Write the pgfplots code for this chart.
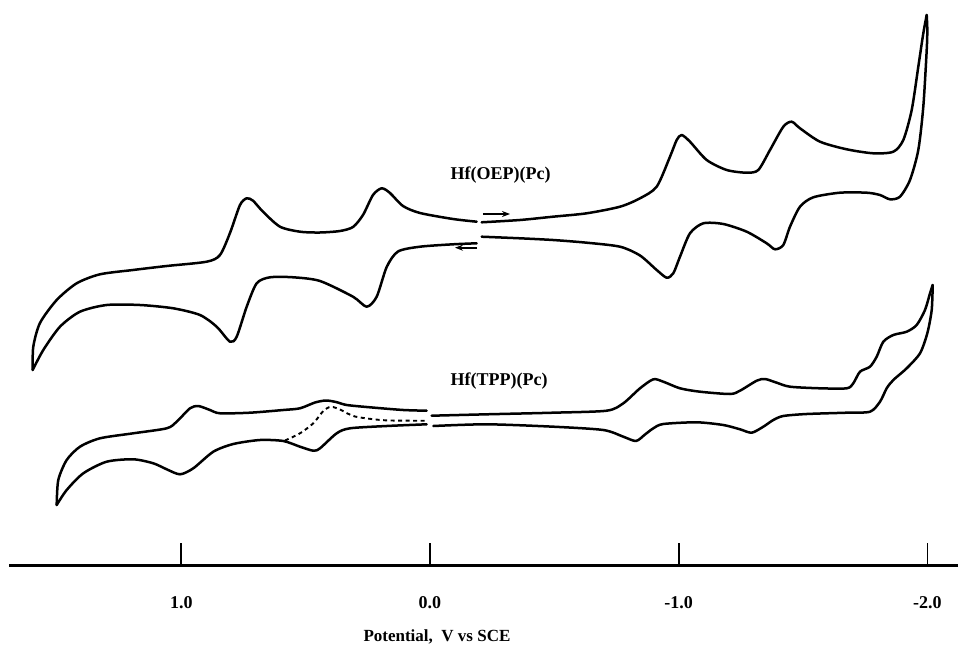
\documentclass[border=0pt]{standalone}
\usepackage{pgfplots}
\pgfplotsset{compat=1.18}
\usepackage{fontspec}
\setmainfont{Liberation Serif}
\usetikzlibrary{arrows.meta}
\pgfplotsset{cv/.style={black, line width=2.5pt, line join=round, line cap=round, smooth, tension=0.45, mark=none}}
\begin{document}
\begin{tikzpicture}
\useasboundingbox (0,0) rectangle (961pt,646pt);
\begin{axis}[
  at={(9pt,81pt)}, anchor=south west,
  scale only axis, width=949pt, height=565pt,
  xmin=-2.1230, xmax=1.6928, ymin=0, ymax=565,
  x dir=reverse,
  axis x line=bottom, axis y line=none,
  x axis line style={-, line width=3pt},
  xtick={1,0,-1,-2}, xticklabels={1.0,0.0,-1.0,-2.0},
  tick align=inside, major tick length=22pt,
  xtick style={line width=1.8pt, black},
  xticklabel style={font=\fontsize{18}{18}\selectfont\bfseries, anchor=center, yshift=-38pt},
  clip=false,
]
% ---- Hf(OEP)(Pc): positive side, upper branch (gap -> tip)
\addplot[cv] coordinates {
(-0.1878,343.3) (-0.0925,346) (0.0402,352) (0.1086,359) (0.1608,372) (0.1942,376.7)
(0.2292,370) (0.2694,350) (0.3096,338) (0.3619,334) (0.4423,332.5) (0.5227,333.3)
(0.6031,338.3) (0.6715,353.3) (0.7117,364.3) (0.7370,366.7) (0.7640,360) (0.8042,332)
(0.8444,310) (0.8979,303.3) (1.0587,299) (1.1942,295) (1.3269,290.7) (1.4206,281.7)
(1.5010,265) (1.5682,242) (1.5951,218.3) (1.5975,195)};
% lower branch (tip -> gap)
\addplot[cv] coordinates {
(1.5975,195) (1.5549,215) (1.4877,238.3) (1.4073,253.3) (1.3000,260) (1.1661,260)
(1.0322,256.7) (0.9248,250) (0.8577,238.3) (0.8042,223.3) (0.7772,228.3) (0.7370,258.3)
(0.6968,281.7) (0.6433,287.7) (0.5497,287.7) (0.4423,284) (0.3096,268.3) (0.2545,258.3)
(0.2143,268.3) (0.1741,298) (0.1287,313.5) (0.0402,318.3) (-0.0925,320.7) (-0.1878,321.7)};
% negative side, upper branch (gap -> tip)
\addplot[cv] coordinates {
(-0.2079,342.7) (-0.3619,345) (-0.4946,348.3) (-0.6301,351.7) (-0.7640,358.3) (-0.8444,366.7)
(-0.9115,378.3) (-0.9650,408.3) (-0.9920,425) (-1.0121,430) (-1.0454,423.3) (-1.1126,405)
(-1.1930,395) (-1.2734,392.3) (-1.3201,395) (-1.3671,415) (-1.4206,438.3) (-1.4544,443.3)
(-1.4877,436.7) (-1.5682,423.3) (-1.6755,415.7) (-1.7825,411.7) (-1.8629,413.3) (-1.9031,425)
(-1.9369,455) (-1.9634,498.3) (-1.9835,531.7) (-1.9972,550)};
% lower branch (tip -> gap)
\addplot[cv] coordinates {
(-1.9972,550) (-1.9996,535) (-1.9972,515) (-1.9835,458.3) (-1.9634,415) (-1.9300,385)
(-1.8898,368.3) (-1.8496,365.7) (-1.8094,370) (-1.7559,372.3) (-1.6486,372.3) (-1.5412,367.7)
(-1.4877,358.3) (-1.4475,338.3) (-1.4206,320) (-1.3872,315.7) (-1.3538,321.7) (-1.2734,333.3)
(-1.1793,341) (-1.0989,341.7) (-1.0454,331.7) (-1.0052,308.3) (-0.9783,291.7) (-0.9517,287.3)
(-0.9115,295) (-0.8444,309.5) (-0.7640,318.3) (-0.6301,322.3) (-0.4946,325) (-0.3619,326.7)
(-0.2079,328.3)};
% scan direction arrows
\addplot[black, line width=1.8pt, mark=none, sharp plot, -{Stealth[length=8pt,width=6pt]}] coordinates {(-0.2131,351) (-0.3217,351)};
\addplot[black, line width=1.8pt, mark=none, sharp plot, -{Stealth[length=8pt,width=6pt]}] coordinates {(-0.1890,317.3) (-0.1005,317.3)};

% ---- Hf(TPP)(Pc): positive side, upper branch (gap -> tip)
\addplot[cv] coordinates {
(0.0133,154.3) (0.1074,155) (0.2413,157.7) (0.3349,160) (0.3780,163) (0.4182,164.5)
(0.4624,162.5) (0.5227,156.7) (0.5899,155) (0.7238,152.3) (0.8444,151.7) (0.8846,155)
(0.9316,159) (0.9650,156.7) (1.0185,143.3) (1.0587,136.7) (1.1930,131.7) (1.3269,126.7)
(1.4073,118.3) (1.4608,105) (1.4946,85) (1.5010,60)};
% lower branch (tip -> gap)
\addplot[cv] coordinates {
(1.5010,60) (1.4608,75) (1.3940,91.7) (1.3000,103.3) (1.1930,105.7) (1.1126,101.7)
(1.0587,95.7) (1.0052,90.7) (0.9517,96.7) (0.8713,113.3) (0.7909,121) (0.6836,125)
(0.5899,124) (0.5227,118.3) (0.4692,114.3) (0.4423,116.7) (0.3752,131.7) (0.3217,136.7)
(0.1741,139) (0.0133,140.7)};
% dashed scan
\addplot[black, mark=none, smooth, tension=0.45, line width=1.9pt, dash pattern=on 4pt off 3.5pt, line cap=butt] coordinates {
(0.5830,124.5) (0.5227,131.7) (0.4692,141.7) (0.4290,154) (0.3981,158.3) (0.3579,155)
(0.3016,148.5) (0.1809,144.7) (0.0121,144.3)};
% negative side, upper branch (gap -> tip)
\addplot[cv] coordinates {
(-0.0068,149.3) (-0.2280,150.7) (-0.4958,152.3) (-0.7105,154.3) (-0.7772,161.7) (-0.8444,176.7)
(-0.8979,185.7) (-0.9381,183.3) (-1.0052,176.7) (-1.0856,173.3) (-1.2063,171) (-1.2465,174.3)
(-1.3136,184.3) (-1.3470,186) (-1.3940,182.3) (-1.4475,178.3) (-1.5682,176.7) (-1.6755,176.7)
(-1.7020,181.7) (-1.7290,193.3) (-1.7692,198.3) (-1.7961,208.3) (-1.8227,223.3) (-1.8629,230)
(-1.9167,233.3) (-1.9569,240) (-1.9903,255) (-2.0105,271.7) (-2.0213,280)};
% lower branch (tip -> gap)
\addplot[cv] coordinates {
(-2.0213,280) (-2.0173,255) (-1.9996,231.7) (-1.9702,211.7) (-1.9167,196.7) (-1.8629,185)
(-1.8363,176.7) (-1.8094,163.3) (-1.7692,153.3) (-1.6755,152.3) (-1.5147,151) (-1.4206,149)
(-1.3804,145) (-1.3402,138.3) (-1.2935,132.3) (-1.2465,135.7) (-1.1793,140) (-1.0724,142.7)
(-0.9381,141) (-0.8979,136.7) (-0.8645,130.5) (-0.8283,124) (-0.7772,128.3) (-0.6968,135)
(-0.4958,138.3) (-0.2280,140.7) (-0.0133,139)};

\node[anchor=west, font=\fontsize{18}{18}\selectfont\bfseries] at (axis cs:-0.0684,390) {Hf(OEP)(Pc)};
\node[anchor=west, font=\fontsize{18}{18}\selectfont\bfseries] at (axis cs:-0.0684,184) {Hf(TPP)(Pc)};
\node[font=\fontsize{17}{17}\selectfont\bfseries] at (axis cs:-0.028,-72) {Potential,\ \ V vs SCE};
\end{axis}
\end{tikzpicture}
\end{document}
